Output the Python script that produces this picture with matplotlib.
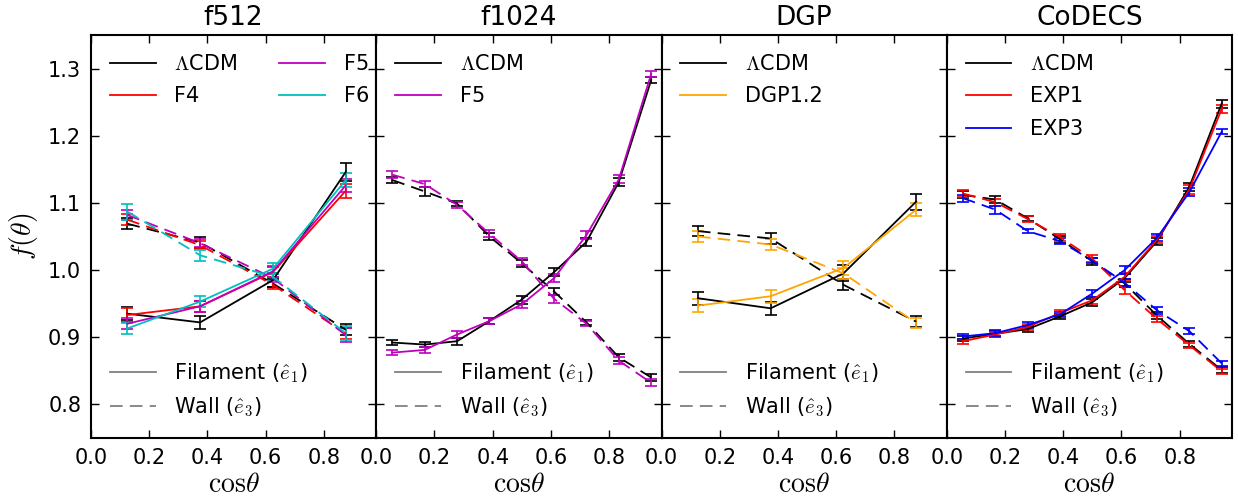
import numpy as np
import matplotlib.pyplot as plt
from matplotlib.lines import Line2D

# bin centres
x4 = [0.125, 0.375, 0.625, 0.875]
x9 = [0.0556, 0.1667, 0.2778, 0.3889, 0.5, 0.6111, 0.7222, 0.8333, 0.9444]

# ---- f512 ----
f512_names = ['$\\Lambda$CDM', 'F4', 'F5', 'F6']
f512_colors = ['k', 'r', 'm', 'c']
f512_fil = [[0.935, 0.922, 0.985, 1.146],
            [0.933, 0.946, 0.997, 1.118],
            [0.920, 0.946, 0.998, 1.126],
            [0.913, 0.953, 1.002, 1.134]]
f512_fil_err = [[0.010, 0.010, 0.010, 0.014],
                [0.010, 0.008, 0.008, 0.010],
                [0.008, 0.008, 0.008, 0.010],
                [0.008, 0.008, 0.008, 0.010]]
f512_wall = [[1.069, 1.041, 0.980, 0.911],
             [1.075, 1.037, 0.978, 0.905],
             [1.082, 1.040, 0.988, 0.903],
             [1.087, 1.022, 0.990, 0.906]]
f512_wall_err = [[0.008, 0.008, 0.006, 0.008],
                 [0.008, 0.006, 0.006, 0.008],
                 [0.008, 0.006, 0.006, 0.010],
                 [0.012, 0.008, 0.006, 0.010]]

# ---- f1024 ----
f1024_names = ['$\\Lambda$CDM', 'F5']
f1024_colors = ['k', 'm']
f1024_fil = [[0.892, 0.889, 0.894, 0.924, 0.956, 0.997, 1.042, 1.131, 1.283],
             [0.877, 0.881, 0.904, 0.924, 0.949, 0.988, 1.052, 1.135, 1.292]]
f1024_fil_err = [[0.004, 0.004, 0.005, 0.004, 0.006, 0.006, 0.006, 0.006, 0.005],
                 [0.004, 0.004, 0.005, 0.004, 0.005, 0.006, 0.006, 0.006, 0.005]]
f1024_wall = [[1.134, 1.117, 1.099, 1.050, 1.010, 0.968, 0.922, 0.870, 0.840],
              [1.142, 1.128, 1.097, 1.054, 1.013, 0.957, 0.920, 0.865, 0.832]]
f1024_wall_err = [[0.005, 0.006, 0.004, 0.005, 0.005, 0.005, 0.004, 0.005, 0.005],
                  [0.005, 0.005, 0.004, 0.005, 0.005, 0.006, 0.004, 0.005, 0.005]]

# ---- DGP ----
dgp_names = ['$\\Lambda$CDM', 'DGP1.2']
dgp_colors = ['k', 'orange']
dgp_fil = [[0.958, 0.943, 0.995, 1.102],
           [0.947, 0.961, 1.003, 1.090]]
dgp_fil_err = [[0.010, 0.010, 0.012, 0.012],
               [0.010, 0.010, 0.010, 0.010]]
dgp_wall = [[1.058, 1.047, 0.978, 0.923],
            [1.050, 1.038, 0.995, 0.921]]
dgp_wall_err = [[0.008, 0.008, 0.008, 0.008],
                [0.008, 0.008, 0.008, 0.008]]

# ---- CoDECS ----
codecs_names = ['$\\Lambda$CDM', 'EXP1', 'EXP3']
codecs_colors = ['k', 'r', 'b']
codecs_fil = [[0.898, 0.905, 0.912, 0.931, 0.952, 0.988, 1.043, 1.124, 1.248],
              [0.894, 0.904, 0.915, 0.936, 0.955, 0.990, 1.045, 1.120, 1.240],
              [0.901, 0.906, 0.918, 0.934, 0.965, 1.000, 1.048, 1.116, 1.206]]
codecs_fil_err = [[0.004, 0.004, 0.004, 0.004, 0.005, 0.006, 0.005, 0.006, 0.006],
                  [0.004, 0.004, 0.004, 0.004, 0.005, 0.006, 0.005, 0.006, 0.006],
                  [0.004, 0.004, 0.004, 0.004, 0.005, 0.006, 0.005, 0.006, 0.004]]
codecs_wall = [[1.112, 1.105, 1.077, 1.046, 1.013, 0.980, 0.932, 0.890, 0.851],
               [1.114, 1.101, 1.076, 1.049, 1.017, 0.970, 0.927, 0.888, 0.849],
               [1.107, 1.090, 1.058, 1.043, 1.014, 0.981, 0.940, 0.909, 0.861]]
codecs_wall_err = [[0.005, 0.005, 0.004, 0.005, 0.005, 0.006, 0.005, 0.004, 0.004],
                   [0.005, 0.005, 0.004, 0.005, 0.005, 0.006, 0.005, 0.004, 0.004],
                   [0.005, 0.006, 0.003, 0.004, 0.004, 0.005, 0.005, 0.004, 0.004]]

panels = [
    ('f512', x4, f512_names, f512_colors, f512_fil, f512_fil_err, f512_wall, f512_wall_err, 2),
    ('f1024', x9, f1024_names, f1024_colors, f1024_fil, f1024_fil_err, f1024_wall, f1024_wall_err, 1),
    ('DGP', x4, dgp_names, dgp_colors, dgp_fil, dgp_fil_err, dgp_wall, dgp_wall_err, 1),
    ('CoDECS', x9, codecs_names, codecs_colors, codecs_fil, codecs_fil_err, codecs_wall, codecs_wall_err, 1),
]

plt.rcParams['font.family'] = 'DejaVu Sans'
plt.rcParams['mathtext.fontset'] = 'cm'
plt.rcParams['xtick.direction'] = 'in'
plt.rcParams['ytick.direction'] = 'in'
plt.rcParams['xtick.top'] = True
plt.rcParams['ytick.right'] = True

dash = (0, (7, 4))

fig, axes = plt.subplots(1, 4, figsize=(12.38, 5.01), dpi=100, sharey=True)
plt.subplots_adjust(left=0.0735, right=0.9952, top=0.930, bottom=0.126, wspace=0)

for ax, (title, x, names, colors, fil, fil_err, wall, wall_err, ncol) in zip(axes, panels):
    handles = []
    for i in range(len(names)):
        ax.errorbar(x, fil[i], yerr=fil_err[i], color=colors[i], lw=1.3,
                    capsize=4, capthick=1.2, elinewidth=1.2)
        ax.errorbar(x, wall[i], yerr=wall_err[i], color=colors[i], lw=1.3,
                    ls=dash, capsize=4, capthick=1.2, elinewidth=1.2)
        handles.append(Line2D([], [], color=colors[i], lw=1.3, label=names[i]))
    leg1 = ax.legend(handles=handles, loc='upper left', frameon=False, ncol=ncol,
                     fontsize=15, handlelength=2.2, columnspacing=2.0,
                     labelspacing=0.6, handletextpad=0.9)
    ax.add_artist(leg1)
    style_handles = [Line2D([], [], color='gray', lw=1.3, label='Filament ($\\hat{e}_1$)'),
                     Line2D([], [], color='gray', lw=1.3, ls=dash, label='Wall ($\\hat{e}_3$)')]
    ax.legend(handles=style_handles, loc='lower left', frameon=False,
              fontsize=15, handlelength=2.2, labelspacing=0.5, handletextpad=0.9)
    ax.set_title(title, fontsize=19, pad=7)
    ax.set_xlim(0, 0.98)
    ax.set_xticks([0.0, 0.2, 0.4, 0.6, 0.8])
    ax.set_xticklabels(['0.0', '0.2', '0.4', '0.6', '0.8'])
    ax.set_xlabel(r'$\mathrm{cos}\theta$', fontsize=20, labelpad=2)
    ax.tick_params(labelsize=15, length=6, width=1, pad=7)
    for s in ax.spines.values():
        s.set_linewidth(1.5)

axes[0].set_ylim(0.75, 1.35)
axes[0].set_yticks([0.8, 0.9, 1.0, 1.1, 1.2, 1.3])
axes[0].set_ylabel(r'$f(\theta)$', fontsize=20, labelpad=6)

fig.savefig('out.png', dpi=100)
